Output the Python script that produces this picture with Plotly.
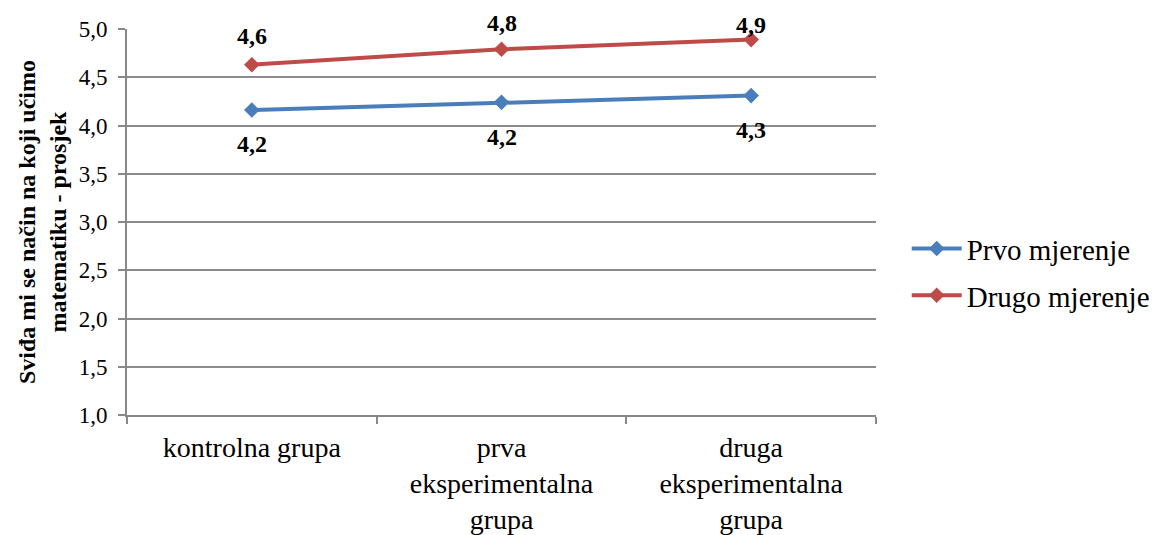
import plotly.graph_objects as go

categories = ["kontrolna grupa", "prva<br>eksperimentalna<br>grupa", "druga<br>eksperimentalna<br>grupa"]
prvo_mjerenje = [4.16, 4.24, 4.31]
drugo_mjerenje = [4.63, 4.79, 4.89]
series_names = ["Prvo mjerenje", "Drugo mjerenje"]
y_ticks = [1.0, 1.5, 2.0, 2.5, 3.0, 3.5, 4.0, 4.5, 5.0]

BLUE = "#4A7EBB"
RED = "#BE4B48"
FONT = "Liberation Serif"

def fmt(v):
    return f"{v:.1f}".replace(".", ",")

fig = go.Figure()
fig.add_trace(go.Scatter(
    x=categories, y=prvo_mjerenje, name=series_names[0], mode="lines+markers", legendgroup="a",
    line=dict(color=BLUE, width=4), marker=dict(symbol="diamond", size=12, color=BLUE),
))
fig.add_trace(go.Scatter(
    x=categories, y=drugo_mjerenje, name=series_names[1], mode="lines+markers", legendgroup="b",
    line=dict(color=RED, width=4), marker=dict(symbol="diamond", size=12, color=RED),
))

blue_shifts = [-34, -35, -34]
red_shifts = [29, 26, 15]
for c, v, s in zip(categories, prvo_mjerenje, blue_shifts):
    fig.add_annotation(x=c, y=v, text=fmt(v), showarrow=False, yshift=s,
                       font=dict(family=FONT, size=24, color="black", weight="bold"))
for c, v, s in zip(categories, drugo_mjerenje, red_shifts):
    fig.add_annotation(x=c, y=v, text=fmt(v), showarrow=False, yshift=s,
                       font=dict(family=FONT, size=24, color="black", weight="bold"))

fig.update_layout(
    width=1153, height=527,
    margin=dict(l=119, r=285, t=21, b=120, autoexpand=False),
    paper_bgcolor="white", plot_bgcolor="white",
    font=dict(family=FONT, color="black"),
    separators=", ",
    showlegend=True,
    legend=dict(x=1.041, y=0.37, xanchor="left", yanchor="middle",
                font=dict(family=FONT, size=29, color="black"),
                tracegroupgap=6, itemwidth=50),
    xaxis=dict(
        type="category", showgrid=False, showline=True, linecolor="#888888", linewidth=2,
        ticks="outside", tickson="boundaries", ticklen=7, tickcolor="#888888", tickwidth=1.5,
        ticklabelstandoff=6,
        tickfont=dict(family=FONT, size=28, color="black"), range=[-0.5, 2.5],
        automargin=False,
    ),
    yaxis=dict(
        range=[1.0, 5.0], tickvals=y_ticks, tickformat=".1f",
        showgrid=True, gridcolor="#8c8c8c", gridwidth=1.5,
        showline=True, linecolor="#888888", linewidth=2,
        ticks="outside", ticklen=7, tickcolor="#888888", tickwidth=1.5,
        ticklabelstandoff=6,
        tickfont=dict(family=FONT, size=23, color="black"),
        zeroline=False, automargin=False,
        title=dict(text="Sviđa mi se način na koji učimo<br>matematiku - prosjek",
                   font=dict(family=FONT, size=24, color="black", weight="bold"), standoff=5),
    ),
)

fig.write_html("out.html")
